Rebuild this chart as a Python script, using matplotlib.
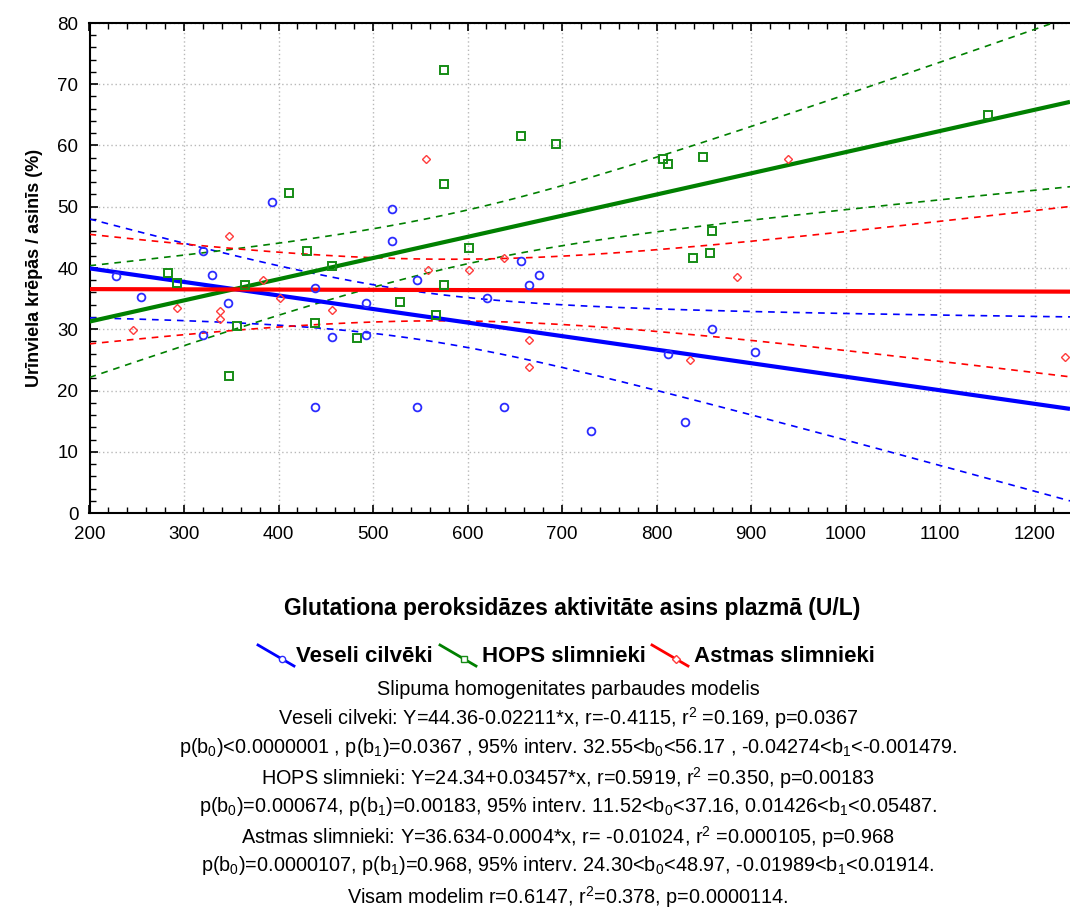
import numpy as np
import matplotlib
matplotlib.use("Agg")
import matplotlib.pyplot as plt
from matplotlib import font_manager
from matplotlib.lines import Line2D
from matplotlib.ticker import MultipleLocator

names = {f.name for f in font_manager.fontManager.ttflist}
NARROW = 'Liberation Sans Narrow' if 'Liberation Sans Narrow' in names else 'Liberation Sans'
plt.rcParams['font.family'] = [NARROW, 'DejaVu Sans']
plt.rcParams['mathtext.fontset'] = 'custom'
plt.rcParams['mathtext.rm'] = NARROW
plt.rcParams['mathtext.it'] = NARROW
plt.rcParams['mathtext.bf'] = NARROW + ':bold'
plt.rcParams['mathtext.default'] = 'regular'

# ---------------- data ----------------
groups = ["Veseli cilvēki", "HOPS slimnieki", "Astmas slimnieki"]

veseli_x = [228, 255, 320, 320.5, 329.6, 347, 392.8, 439, 439, 457, 492.6, 493, 520, 520,
            547, 547, 621, 639, 656.6, 665.4, 676, 730.7, 812.5, 830, 858.4, 904]
veseli_y = [38.7, 35.3, 42.8, 29.1, 38.9, 34.3, 50.7, 36.7, 17.3, 28.8, 29.0, 34.3, 49.6, 44.4,
            38.1, 17.3, 35.1, 17.3, 41.1, 37.3, 38.9, 13.4, 26.0, 14.8, 30.0, 26.3]

hops_x = [283.4, 292.3, 347.3, 355.8, 365, 410.8, 430, 439, 457, 482.7, 529, 566.7, 575.5,
          575.5, 575.5, 602, 656.6, 693.7, 807, 812.5, 839, 849.5, 856.6, 858.4, 1150.5]
hops_y = [39.2, 37.5, 22.3, 30.5, 37.3, 52.3, 42.8, 31.0, 40.3, 28.5, 34.5, 32.4, 72.3,
          53.7, 37.3, 43.3, 61.6, 60.2, 57.8, 57.0, 41.7, 58.1, 42.5, 46.0, 65.0]

astma_x = [245.7, 292.3, 338, 338, 347.3, 384, 401.6, 457, 555.8, 557.9, 602, 639, 665.4,
           665.4, 835.4, 884.9, 939.5, 1232]
astma_y = [29.9, 33.4, 32.9, 31.75, 45.2, 38.1, 35.1, 33.2, 57.8, 39.7, 39.7, 41.7, 28.3,
           23.8, 25.0, 38.6, 57.8, 25.5]

# regression coefficients (intercept, slope) as reported
intercepts = [44.36, 24.34, 36.634]
slopes = [-0.02211, 0.03457, -0.0004]
t_crit = {16: 2.120, 23: 2.069, 24: 2.064}

xticks = [200, 300, 400, 500, 600, 700, 800, 900, 1000, 1100, 1200]
yticks = [0, 10, 20, 30, 40, 50, 60, 70, 80]

stats_lines = [
    "Slipuma homogenitates parbaudes modelis",
    "Veseli cilveki: Y=44.36-0.02211*x, r=-0.4115, r$^2$ =0.169, p=0.0367",
    "p(b$_0$)<0.0000001 , p(b$_1$)=0.0367 , 95% interv. 32.55<b$_0$<56.17 , -0.04274<b$_1$<-0.001479.",
    "HOPS slimnieki: Y=24.34+0.03457*x, r=0.5919, r$^2$ =0.350, p=0.00183",
    "p(b$_0$)=0.000674, p(b$_1$)=0.00183, 95% interv. 11.52<b$_0$<37.16, 0.01426<b$_1$<0.05487.",
    "Astmas slimnieki: Y=36.634-0.0004*x, r= -0.01024, r$^2$ =0.000105, p=0.968",
    "p(b$_0$)=0.0000107, p(b$_1$)=0.968, 95% interv. 24.30<b$_0$<48.97, -0.01989<b$_1$<0.01914.",
    "Visam modelim r=0.6147, r$^2$=0.378, p=0.0000114.",
]

# ---------------- styles ----------------
line_colors = ['#0000ff', '#008000', '#ff0000']
mark_colors = ['#2b2bff', '#168c16', '#ff3b3b']
markers = ['o', 's', 'D']
msizes = [5.6, 5.4, 4.3]
mews = [1.3, 1.4, 1.0]

W, H = 1070, 921
fig = plt.figure(figsize=(W / 100, H / 100), dpi=100)

def fx(px):
    return px / W

def fy(py):
    return 1 - py / H

ax_left, ax_right, ax_top, ax_bot = 89.5, 1070, 23, 513
ax = fig.add_axes([fx(ax_left), fy(ax_bot), fx(ax_right - ax_left), (ax_bot - ax_top) / H])

x0 = 200
x1 = 200 + (ax_right - ax_left) / 0.945
ax.set_xlim(x0, x1)
ax.set_ylim(0, 80)

datasets = [(veseli_x, veseli_y), (hops_x, hops_y), (astma_x, astma_y)]
xx = np.linspace(x0, x1, 300)
for i, (xs, ys) in enumerate(datasets):
    xs = np.asarray(xs, float)
    ys = np.asarray(ys, float)
    b0, b1 = intercepts[i], slopes[i]
    yfit = b0 + b1 * xx
    n = len(xs)
    resid = ys - (b0 + b1 * xs)
    s = np.sqrt(np.sum(resid ** 2) / (n - 2))
    sxx = np.sum((xs - xs.mean()) ** 2)
    t = t_crit[n - 2]
    half = t * s * np.sqrt(1.0 / n + (xx - xs.mean()) ** 2 / sxx)
    ax.plot(xx, yfit + half, color=line_colors[i], lw=1.2, ls=(0, (4, 3.5)), zorder=3)
    ax.plot(xx, yfit - half, color=line_colors[i], lw=1.2, ls=(0, (4, 3.5)), zorder=3)
    ax.plot(xx, yfit, color=line_colors[i], lw=3.0, zorder=4, solid_capstyle='butt')
    ax.plot(xs, ys, ls='none', marker=markers[i], ms=msizes[i], mfc='none',
            mec=mark_colors[i], mew=mews[i], zorder=5, clip_on=False)

ax.set_xticks(xticks)
ax.set_yticks(yticks)
ax.xaxis.set_minor_locator(MultipleLocator(20))
ax.yaxis.set_minor_locator(MultipleLocator(2))
ax.tick_params(which='both', direction='in', top=True, right=False, colors='black')
ax.tick_params(which='major', length=6, width=1.2, labelsize=13.5)
ax.tick_params(axis='x', which='major', pad=9)
ax.tick_params(axis='y', which='major', pad=8)
ax.tick_params(which='minor', length=4, width=1.0)
ax.spines['right'].set_visible(False)
for sp in ['left', 'bottom', 'top']:
    ax.spines[sp].set_linewidth(1.5)
ax.grid(True, which='major', color='#b8b8b8', ls=(0, (1, 2)), lw=1.0)
ax.set_axisbelow(True)

ax.set_ylabel("Urīnviela krēpās / asinīs (%)", fontsize=13, fontweight='bold', labelpad=10)
fig.text(fx(572), fy(608), "Glutationa peroksidāzes aktivitāte asins plazmā (U/L)",
         ha='center', va='center', fontsize=16.5, fontweight='bold')

# legend
leg_items = [(258, 296), (440, 482), (652, 694)]
for i, (lx, tx) in enumerate(leg_items):
    ln = Line2D([fx(lx), fx(lx + 36)], [fy(645), fy(666)], transform=fig.transFigure,
                color=line_colors[i], lw=2.0)
    fig.add_artist(ln)
    mk = Line2D([fx(lx + 24)], [fy(659)], transform=fig.transFigure, ls='none',
                marker=markers[i], ms=4.5, mfc='white', mec=mark_colors[i], mew=1.0)
    fig.add_artist(mk)
    fig.text(fx(tx), fy(656), groups[i], ha='left', va='center', fontsize=16,
             fontweight='bold')

stat_y = [689, 718, 747, 778, 806, 837, 865, 897]
for txt, yy in zip(stats_lines, stat_y):
    fig.text(fx(568), fy(yy), txt, ha='center', va='center', fontsize=14.3)

fig.savefig("out.png", dpi=100)
